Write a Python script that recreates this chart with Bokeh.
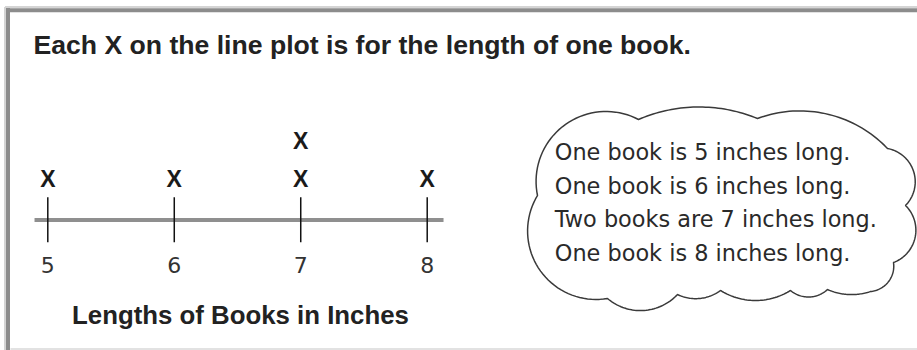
import numpy as np
from bokeh.plotting import figure
from bokeh.models import Range1d
from bokeh.core.properties import value
from bokeh.embed import file_html
from bokeh.resources import INLINE

# ---------------- data ----------------
lengths = [5, 6, 7, 8]            # book lengths (inches)
counts = [1, 1, 2, 1]             # number of books of each length
tick_labels = ["5", "6", "7", "8"]
title_text = "Each X on the line plot is for the length of one book."
axis_title = "Lengths of Books in Inches"
cloud_lines = [
    "One book is 5 inches long.",
    "One book is 6 inches long.",
    "Two books are 7 inches long.",
    "One book is 8 inches long.",
]

# ---------------- layout ----------------
W, H = 917, 350
PX_PER_INCH = 126.47
X5 = 47.3            # screen x of the value 5
PX_PER_COUNT = 37.6
C0 = 215.9           # screen y of count 0 (centre line of X marks)

x_start = 5 - X5 / PX_PER_INCH
x_end = x_start + W / PX_PER_INCH
y_start = (C0 - H) / PX_PER_COUNT
y_end = C0 / PX_PER_COUNT

p = figure(width=W, height=H, output_backend="svg", toolbar_location=None,
           x_range=Range1d(x_start, x_end), y_range=Range1d(y_start, y_end),
           x_axis_type=None, y_axis_type=None, min_border=0)
p.extra_x_ranges = {"px": Range1d(0, W)}
p.extra_y_ranges = {"px": Range1d(H, 0)}
p.grid.visible = False
p.outline_line_color = None
p.background_fill_color = "white"
p.border_fill_color = "white"

# frame border (soft grey)
p.segment(x0=[4.5, 4.5], y0=[6.5, 6.5], x1=[W, 4.5], y1=[6.5, H],
          line_color="#d4d4d4", line_width=2, x_range_name="px", y_range_name="px")
p.segment(x0=[7.5, 7.5], y0=[9.8, 7.6], x1=[W, 7.5], y1=[9.8, H],
          line_color="#8c8c8c", line_width=4, x_range_name="px", y_range_name="px")
p.segment(x0=[10], y0=[348.5], x1=[W], y1=[348.5],
          line_color="#e2e2e2", line_width=2, x_range_name="px", y_range_name="px")

# title
p.text(x=[33], y=[44.2], text=[title_text], text_font=value("Liberation Sans"),
       text_font_style="bold", text_font_size="26.6px", text_color="#222222",
       text_align="left", text_baseline="middle",
       x_range_name="px", y_range_name="px")

# number line
x_lo = min(lengths) - 0.105
x_hi = max(lengths) + 0.129
p.segment(x0=[x_lo], x1=[x_hi], y0=[219.5], y1=[219.5], line_color="#8f8f8f",
          line_width=4, y_range_name="px")
p.segment(x0=lengths, x1=lengths, y0=[196.7] * len(lengths), y1=[241.7] * len(lengths),
          line_color="#111111", line_width=1.5, y_range_name="px")
p.text(x=lengths, y=[264.7] * len(lengths), text=tick_labels,
       text_font=value("DejaVu Sans"), text_font_size="22px", text_color="#333333",
       text_align="center", text_baseline="middle", y_range_name="px")
p.text(x=[float(np.mean(lengths))], y=[314.2], text=[axis_title], x_offset=3,
       text_font=value("Liberation Sans"), text_font_style="bold",
       text_font_size="25.8px", text_color="#222222",
       text_align="center", text_baseline="middle", y_range_name="px")

# X marks
xs, ys = [], []
for L, c in zip(lengths, counts):
    for k in range(1, c + 1):
        xs.append(L)
        ys.append(k)
p.text(x=xs, y=ys, text=["X"] * len(xs),
       text_font=value("Liberation Sans"), text_font_style="bold",
       text_font_size="23px", text_color="#1a1a1a",
       text_align="center", text_baseline="middle")

# cloud
cusps = [(537, 195), (638, 119), (757, 118), (887, 148), (905, 205), (893, 262),
         (870, 291), (827, 289), (790, 290), (720, 290), (677, 294), (607, 298)]
sags = [40, 12, 20, 18, 16, 8, 4, 7, 10, 6, 14, 40]


def arc(P, Q, s, n=40):
    P = np.array(P, float)
    Q = np.array(Q, float)
    d = Q - P
    L = np.hypot(*d)
    c = L / 2
    nrm = np.array([d[1], -d[0]]) / L
    M = (P + Q) / 2
    r = (c * c + s * s) / (2 * s)
    C = M + nrm * (s - r)
    th = 2 * np.arctan2(s, c)
    ap = np.arctan2(nrm[1], nrm[0])
    ang = ap + np.linspace(-th, th, n)
    pts = C + r * np.column_stack([np.cos(ang), np.sin(ang)])
    if np.hypot(*(pts[0] - P)) > np.hypot(*(pts[0] - Q)):
        pts = pts[::-1]
    return pts


cx, cy = [], []
for i in range(len(cusps)):
    pts = arc(cusps[i], cusps[(i + 1) % len(cusps)], sags[i])
    cx.extend(pts[:, 0].tolist())
    cy.extend(pts[:, 1].tolist())
p.patch(cx, cy, fill_color="white", line_color="#3a3a3a", line_width=1.5,
        x_range_name="px", y_range_name="px")

mid_y = [151.8, 185.3, 218.8, 252.3]
p.text(x=[554.3] * len(cloud_lines), y=mid_y, text=cloud_lines,
       text_font=value("DejaVu Sans"), text_font_size="22.4px", text_color="#2a2a2a",
       text_align="left", text_baseline="middle",
       x_range_name="px", y_range_name="px")

open("out.html", "w").write(file_html(p, INLINE))
